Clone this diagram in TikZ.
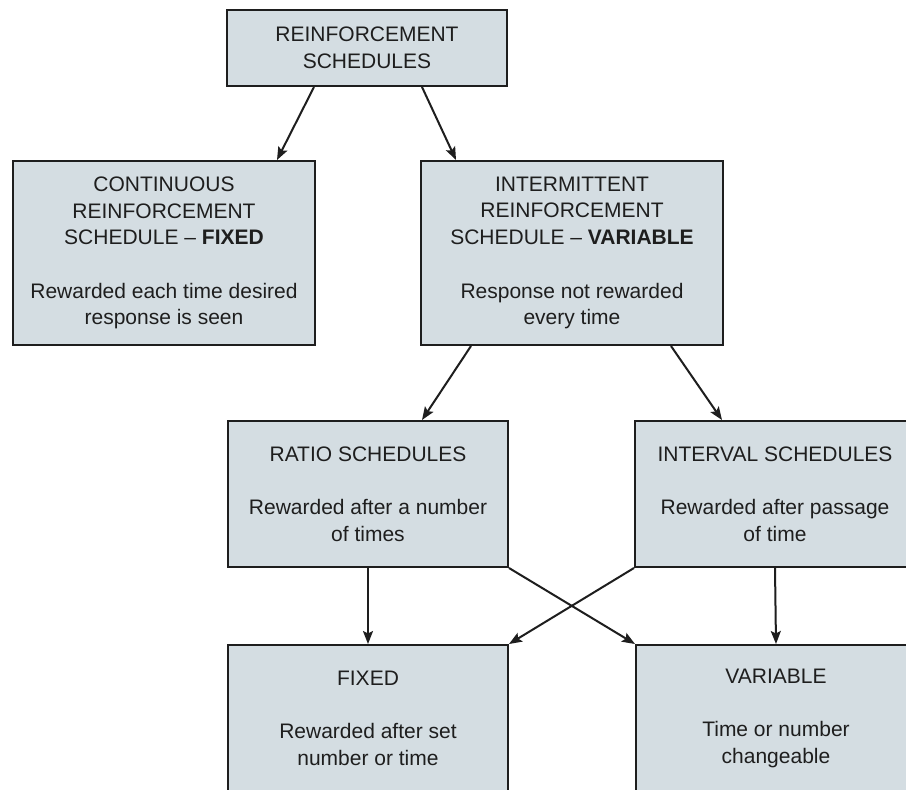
\documentclass[tikz,border=0pt]{standalone}
\usepackage{fontspec}
\setmainfont{Liberation Sans}
\usetikzlibrary{arrows.meta}
\definecolor{boxfill}{RGB}{212,221,226}
\definecolor{ink}{RGB}{30,30,30}
\tikzset{
  box/.style={draw=ink, line width=2pt, fill=boxfill, inner sep=0pt, align=center,
    font=\fontsize{21}{26.7}\selectfont, text=ink},
  arr/.style={draw=ink, line width=2pt, -{Stealth[length=13pt,width=10pt,inset=2.5pt]}}
}
\begin{document}
\begin{tikzpicture}[x=1pt,y=-1pt]
\path[use as bounding box] (0,0) rectangle (906,790);
\clip (0,0) rectangle (906,790);
\fill[white] (0,0) rectangle (906,790);

\node[box, minimum width=280pt, minimum height=76pt] (top) at (367,48)
  {REINFORCEMENT\\SCHEDULES};
\node[box, minimum width=302pt, minimum height=184pt] (cont) at (164,253)
  {CONTINUOUS\\REINFORCEMENT\\SCHEDULE -- \textbf{FIXED}\\[26.7pt]Rewarded each time desired\\response is seen};
\node[box, minimum width=302pt, minimum height=184pt] (inter) at (572,253)
  {INTERMITTENT\\REINFORCEMENT\\SCHEDULE -- \textbf{VARIABLE}\\[26.7pt]Response not rewarded\\every time};
\node[box, minimum width=280pt, minimum height=146pt] (ratio) at (368,494)
  {RATIO SCHEDULES\\[26.7pt]Rewarded after a number\\of times};
\node[box, minimum width=280pt, minimum height=146pt] (interval) at (775,494)
  {INTERVAL SCHEDULES\\[26.7pt]Rewarded after passage\\of time};
\node[box, minimum width=280pt, minimum height=146pt] (fixed) at (368,718)
  {FIXED\\[26.7pt]Rewarded after set\\number or time};
\node[box, minimum width=280pt, minimum height=146pt] (variable) at (776,718)
  {VARIABLE\\[26.7pt]Time or number\\changeable};

\draw[arr] ([xshift=88pt]top.south west) -- ([xshift=265pt]cont.north west);
\draw[arr] ([xshift=196pt]top.south west) -- ([xshift=36pt]inter.north west);
\draw[arr] ([xshift=51pt]inter.south west) -- ([xshift=195pt]ratio.north west);
\draw[arr] ([xshift=251pt]inter.south west) -- ([xshift=88pt]interval.north west);
\draw[arr] (ratio.south) -- (fixed.north);
\draw[arr] (ratio.south east) -- (variable.north west);
\draw[arr] (interval.south west) -- (fixed.north east);
\draw[arr] (interval.south) -- (variable.north);
\end{tikzpicture}
\end{document}
